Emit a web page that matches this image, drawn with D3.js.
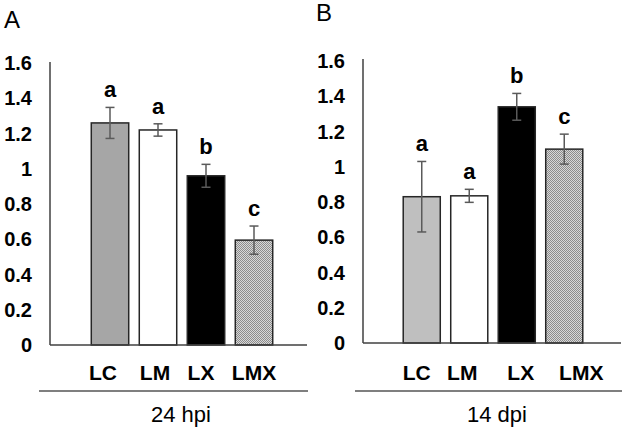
<!DOCTYPE html>
<html>
<head>
  <meta charset="utf-8">
  <title>24 hpi / 14 dpi</title>
  <style>
    body { margin: 0; background: #fff; }
    svg { display: block; font-family: Arial, "Liberation Sans", sans-serif; }
    .tick-label { font-weight: bold; font-size: 20px; fill: #000; }
    .cat-label { font-weight: bold; font-size: 21px; fill: #000; }
    .sig { font-weight: bold; font-size: 22px; fill: #000; }
    .group-label { font-size: 22px; fill: #000; }
    .panel-letter { font-size: 24px; fill: #000; }
  </style>
</head>
<body>
  <svg width="625" height="434"></svg>

  <script src="https://d3js.org/d3.v7.min.js"></script>
  <script>
    // data
    var categories = ['LC', 'LM', 'LX', 'LMX'];
    var yTicks = [0, 0.2, 0.4, 0.6, 0.8, 1, 1.2, 1.4, 1.6];

    var valuesA = [1.26, 1.22, 0.96, 0.595];
    var errorsA = [0.088, 0.035, 0.065, 0.08];
    var lettersA = ['a', 'a', 'b', 'c'];

    var valuesB = [0.83, 0.835, 1.34, 1.1];
    var errorsB = [0.2, 0.037, 0.076, 0.085];
    var lettersB = ['a', 'a', 'b', 'c'];

    var svg = d3.select('svg');

    // checker pattern for the LMX bars
    var defs = svg.append('defs');
    var pat = defs.append('pattern')
      .attr('id', 'checker')
      .attr('width', 2).attr('height', 2)
      .attr('patternUnits', 'userSpaceOnUse');
    pat.append('rect').attr('width', 2).attr('height', 2).attr('fill', '#d8d8d8');
    pat.append('rect').attr('width', 1).attr('height', 1).attr('fill', '#8c8c8c');
    pat.append('rect').attr('x', 1).attr('y', 1).attr('width', 1).attr('height', 1).attr('fill', '#8c8c8c');

    var panels = [
      {
        letter: 'A', letterX: 4, letterY: 28,
        axisX: 50, xEnd: 307, yTop: 63, yBase: 345, yAxisTop: 62,
        bandRange: [86, 278], labelRight: 32,
        lineX: [39, 308], groupX: 181, group: '24 hpi',
        values: valuesA, errors: errorsA, letters: lettersA,
        fills: ['#a6a6a6', '#ffffff', '#000000', 'url(#checker)'],
        labelDx: [-7, -3, -5, 0]
      },
      {
        letter: 'B', letterX: 316, letterY: 21,
        axisX: 363, xEnd: 621, yTop: 61, yBase: 343, yAxisTop: 59,
        bandRange: [398, 588], labelRight: 345,
        lineX: [355, 622], groupX: 497, group: '14 dpi',
        values: valuesB, errors: errorsB, letters: lettersB,
        fills: ['#bfbfbf', '#ffffff', '#000000', 'url(#checker)'],
        labelDx: [-5, -7, 4, 17]
      }
    ];

    panels.forEach(function(p) {
      var g = svg.append('g');

      var y = d3.scaleLinear().domain([0, 1.6]).range([p.yBase, p.yTop]);
      var x = d3.scaleBand().domain(categories).range(p.bandRange)
        .paddingInner(0.22).paddingOuter(0.11);

      // panel letter
      g.append('text').attr('class', 'panel-letter')
        .attr('x', p.letterX).attr('y', p.letterY).text(p.letter);

      // y tick labels (no tick marks)
      g.selectAll('.tick-label').data(yTicks).enter().append('text')
        .attr('class', 'tick-label')
        .attr('x', p.labelRight)
        .attr('y', function(d) { return y(d); })
        .attr('dy', '0.35em')
        .attr('text-anchor', 'end')
        .text(function(d) { return d3.format('')(d); });

      // bars
      g.selectAll('.bar').data(p.values).enter().append('rect')
        .attr('class', 'bar')
        .attr('x', function(d, i) { return x(categories[i]); })
        .attr('y', function(d) { return y(d); })
        .attr('width', x.bandwidth())
        .attr('height', function(d) { return y(0) - y(d); })
        .attr('fill', function(d, i) { return p.fills[i]; })
        .attr('stroke', '#262626')
        .attr('stroke-width', 1.5);

      // error bars
      var eb = g.selectAll('.err').data(p.values).enter().append('g')
        .attr('class', 'err')
        .attr('stroke', '#5a5a5a')
        .attr('stroke-width', 1.5);
      eb.append('line')
        .attr('x1', function(d, i) { return x(categories[i]) + x.bandwidth() / 2; })
        .attr('x2', function(d, i) { return x(categories[i]) + x.bandwidth() / 2; })
        .attr('y1', function(d, i) { return y(d + p.errors[i]); })
        .attr('y2', function(d, i) { return y(d - p.errors[i]); });
      [1, -1].forEach(function(s) {
        eb.append('line')
          .attr('x1', function(d, i) { return x(categories[i]) + x.bandwidth() / 2 - 4.5; })
          .attr('x2', function(d, i) { return x(categories[i]) + x.bandwidth() / 2 + 4.5; })
          .attr('y1', function(d, i) { return y(d + s * p.errors[i]); })
          .attr('y2', function(d, i) { return y(d + s * p.errors[i]); });
      });

      // significance letters
      g.selectAll('.sig').data(p.values).enter().append('text')
        .attr('class', 'sig')
        .attr('x', function(d, i) { return x(categories[i]) + x.bandwidth() / 2; })
        .attr('y', function(d, i) { return y(d + p.errors[i]) - 10; })
        .attr('text-anchor', 'middle')
        .text(function(d, i) { return p.letters[i]; });

      // axes lines
      g.append('line')
        .attr('x1', p.axisX).attr('x2', p.axisX)
        .attr('y1', p.yAxisTop).attr('y2', y(0))
        .attr('stroke', '#404040').attr('stroke-width', 1.5);
      g.append('line')
        .attr('x1', p.axisX).attr('x2', p.xEnd)
        .attr('y1', y(0)).attr('y2', y(0))
        .attr('stroke', '#404040').attr('stroke-width', 1.5);

      // category labels
      g.selectAll('.cat-label').data(categories).enter().append('text')
        .attr('class', 'cat-label')
        .attr('x', function(d, i) { return x(d) + x.bandwidth() / 2 + p.labelDx[i]; })
        .attr('y', 380)
        .attr('text-anchor', 'middle')
        .text(function(d) { return d; });

      // group separator and label
      g.append('line')
        .attr('x1', p.lineX[0]).attr('x2', p.lineX[1])
        .attr('y1', 391).attr('y2', 391)
        .attr('stroke', '#000').attr('stroke-width', 1.2);
      g.append('text').attr('class', 'group-label')
        .attr('x', p.groupX).attr('y', 422)
        .attr('text-anchor', 'middle')
        .text(p.group);
    });
  </script>
</body>
</html>
